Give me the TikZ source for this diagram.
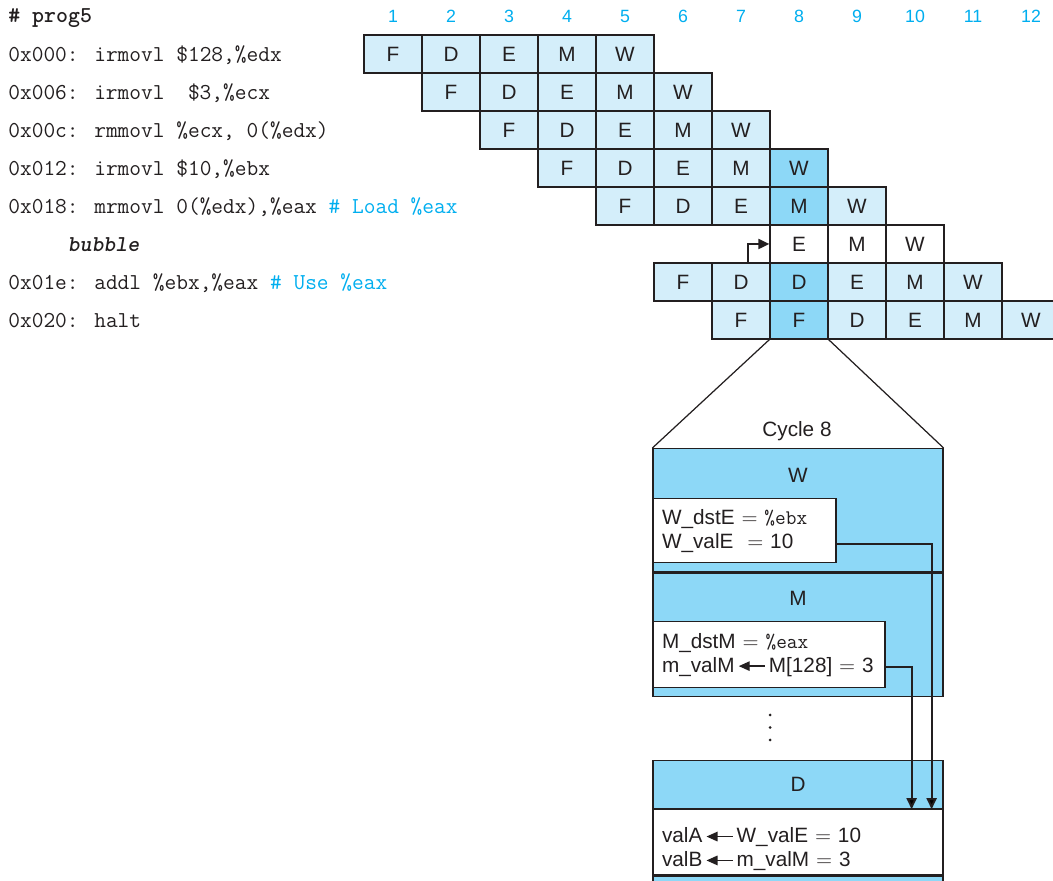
\documentclass[tikz,border=0pt]{standalone}
\usepackage{fontspec}
\setsansfont{Liberation Sans}
\usepackage{tikz}
\usetikzlibrary{positioning,arrows.meta,calc}
\definecolor{pipeltblue}{HTML}{D4EEFA}
\definecolor{pipedkblue}{HTML}{8DD8F7}
\definecolor{pipecyan}{HTML}{00AEEF}
\definecolor{pipeink}{HTML}{231F20}
\newcommand{\reg}[1]{\texttt{\%#1}}
\newcommand{\getsarrow}{\,\tikz[baseline=-0.55ex]\draw[-{Triangle[length=2.2mm,width=1.9mm]}, line width=0.8pt] (0.52,0) -- (0,0);\,}

\begin{document}
\begin{tikzpicture}[font={\sffamily\fontsize{11.8}{13.6}\selectfont}, text=pipeink,
  cell/.style={draw=pipeink, line width=0.7pt, minimum width=1.16cm, minimum height=0.76cm, inner sep=0pt},
  cycnum/.style={font={\sffamily\fontsize{10.1}{12}\selectfont}, text=pipecyan},
  code/.style={anchor=base west, inner sep=0pt, font={\ttfamily\fontsize{12.95}{15}\selectfont}},
  sect/.style={draw=pipeink, line width=0.7pt, fill=pipedkblue, minimum width=5.8cm, inner sep=0pt},
  regbox/.style={draw=pipeink, line width=0.7pt, fill=white, anchor=north west, align=left, inner xsep=0.18cm, inner ysep=0pt},
  fwd/.style={-{Triangle[length=2.2mm,width=2mm]}, draw=pipeink, line width=1.1pt}]
\useasboundingbox (0,0) rectangle (21.06,-17.62);
\clip (0,0) rectangle (21.06,-17.62);
% ===== program listing =====
\node[code] (hdr) at (0.16,-0.454) {\textbf{\# prog5}};
\node[code] (i1) at (0.16,-1.234) {0x000: irmovl \$128,\%edx};
\node[code] (i2) at (0.16,-1.994) {0x006: irmovl\ \ \$3,\%ecx};
\node[code] (i3) at (0.16,-2.754) {0x00c: rmmovl \%ecx, 0(\%edx)};
\node[code] (i4) at (0.16,-3.514) {0x012: irmovl \$10,\%ebx};
\node[code] (i5) at (0.16,-4.274) {0x018: mrmovl 0(\%edx),\%eax {\color{pipecyan}\# Load \%eax}};
\node[code] (bub) at (1.346,-5.034) {\textbf{\textit{bubble}}};
\node[code] (i7) at (0.16,-5.794) {0x01e: addl \%ebx,\%eax {\color{pipecyan}\# Use \%eax}};
\node[code] (i8) at (0.16,-6.554) {0x020: halt};
% ===== pipeline diagram =====
\foreach \c in {1,...,12}
  \node[cycnum] (n\c) at ({7.86+1.16*(\c-1)},-0.32) {\c};
\foreach \r/\st/\stages in {1/1/{F,D,E,M,W}, 2/2/{F,D,E,M,W}, 3/3/{F,D,E,M,W}, 4/4/{F,D,E,M,W},
    5/5/{F,D,E,M,W}, 6/8/{E,M,W}, 7/6/{F,D,D,E,M,W}, 8/7/{F,F,D,E,M,W}}
  \foreach \s [count=\k from \st] in \stages {
    \ifnum\r=6 \def\cf{white}\else\ifnum\k=8 \def\cf{pipedkblue}\else\def\cf{pipeltblue}\fi\fi
    \node[cell, fill=\cf] (s\r-\k) at ({7.86+1.16*(\k-1)},{-1.08-0.76*(\r-1)}) {\s};
  }
\draw[fwd] ($(s7-7.north)+(0.14,0)$) |- (s6-8.west);
% ===== cycle 8 close-up =====
\node (cyc) at (15.94,-8.62) {Cycle 8};
\node[sect, minimum height=2.47cm, anchor=north] (wsec) at (15.96,-8.96) {};
\node (wlab) at ($(wsec.north)+(0,-0.54)$) {W};
\node[regbox, minimum width=3.66cm, text width=3.3cm, minimum height=1.28cm] (wbox) at ($(wsec.north west)+(0,-1.0)$) {W\_dstE $=$ \reg{ebx}\\W\_valE\ \ $=$ 10};
\node[sect, minimum height=2.47cm, anchor=north] (msec) at (wsec.south) {};
\node (mlab) at ($(msec.north)+(0,-0.51)$) {M};
\node[regbox, minimum width=4.64cm, text width=4.28cm, minimum height=1.32cm] (mbox) at ($(msec.north west)+(0,-0.97)$) {M\_dstM $=$ \reg{eax}\\m\_valM\getsarrow M[128] $=$ 3};
\draw[line width=0.7pt, draw=pipeink] (s8-8.south west) -- (wsec.north west);
\draw[line width=0.7pt, draw=pipeink] (s8-8.south east) -- (wsec.north east);
\foreach \y in {-14.3,-14.55,-14.8}
  \fill[pipeink] (15.4,\y) circle (0.03);
\node[sect, minimum height=0.96cm, anchor=north] (dsec) at (15.96,-15.2) {D};
\node[sect, fill=white, minimum height=1.3cm, anchor=north, align=left, text width=5.44cm, inner xsep=0.18cm] (dval) at (dsec.south) {\rule{0pt}{2.6ex}valA\getsarrow W\_valE $=$ 10\\valB\getsarrow m\_valM $=$ 3};
\node[sect, minimum height=0.6cm, anchor=north] (dnext) at (dval.south) {};
\draw[fwd] ($(wbox.south east)+(0,0.38)$) -| ($(dsec.south east)+(-0.24,0)$);
\draw[fwd] ($(mbox.south east)+(0,0.42)$) -| ($(dsec.south east)+(-0.64,0)$);
\end{tikzpicture}
\end{document}
